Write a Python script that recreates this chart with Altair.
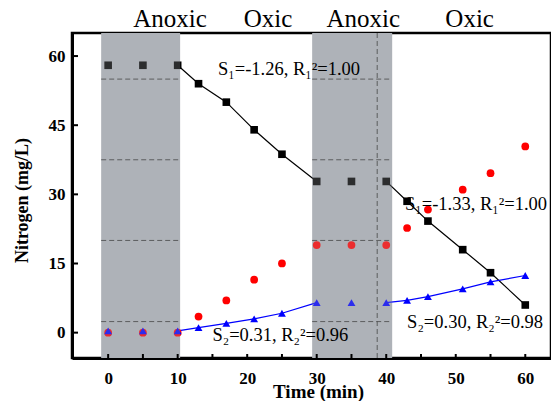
import altair as alt
import pandas as pd

# ---------------- data ----------------
times = [0, 5, 10, 13, 17, 21, 25, 30, 35, 40, 43, 46, 51, 55, 60]
nh4 = [58, 58, 58, 54, 50, 44, 38.7, 32.8, 32.8, 32.8, 28.5, 24.2, 18, 13, 6]
no2 = [0, 0, 0, 3.5, 7, 11.5, 15, 19, 19, 19, 22.7, 26.7, 31, 34.6, 40.4]
no3 = [0.4, 0.4, 0.4, 1.1, 2, 3, 4.2, 6.5, 6.5, 6.5, 7, 7.8, 9.5, 11, 12.4]
species = ["NH₄⁺-N", "NO₂⁻-N", "NO₃⁻-N"]
colors = ["#000000", "#ff0000", "#0000ff"]
shapes = ["square", "circle", "triangle-up"]
sizes = [58, 62, 85]

phase_labels = ["Anoxic", "Oxic", "Anoxic", "Oxic"]
phase_label_x = [8.9, 23, 36.7, 52]
shade_start = [-1, 29.35]
shade_end = [10.35, 40.85]
dash_y = [55, 37.5, 20, 2.4]
dash_x = [38.7]

annot_text = ["S₁=-1.26, R₁²=1.00", "S₁=-1.33, R₁²=1.00",
              "S₂=0.31, R₂²=0.96", "S₂=0.30, R₂²=0.98"]
annot_x = [15.8, 42.7, 15.0, 43.0]
annot_y = [57.2, 27.8, -0.6, 2.4]

x_tick_vals = list(range(0, 61, 5))
x_label_vals = list(range(0, 61, 10))
y_tick_vals = [0, 15, 30, 45, 60]

FONT = "Liberation Serif"
W, H = 479, 325

# ---------------- tables ----------------
pts = pd.DataFrame({
    "t": times * 3,
    "v": nh4 + no2 + no3,
    "s": [species[0]] * len(times) + [species[1]] * len(times) + [species[2]] * len(times),
})

seg_rows = []
for sp, vals in [(species[0], nh4), (species[2], no3)]:
    for t, v in zip(times, vals):
        if 10 <= t <= 30:
            seg_rows.append({"t": t, "v": v, "s": sp, "g": sp + "a"})
        if 40 <= t <= 60:
            seg_rows.append({"t": t, "v": v, "s": sp, "g": sp + "b"})
segs = pd.DataFrame(seg_rows)

shade_df = pd.DataFrame({"x0": shade_start, "x1": shade_end})
hdash = pd.DataFrame([{"x0": a, "x1": b, "y": y} for a, b in zip(shade_start, shade_end) for y in dash_y])
vdash = pd.DataFrame({"x": dash_x})
phase_df = pd.DataFrame({"x": phase_label_x, "lab": phase_labels})
annot_df = pd.DataFrame({"x": annot_x, "y": annot_y, "txt": annot_text})
xt_df = pd.DataFrame({"t": x_tick_vals})
yt_df = pd.DataFrame({"v": y_tick_vals})

# ---------------- scales / axes ----------------
xscale = alt.Scale(domain=[-5.2, 63.7], nice=False, zero=False)
yscale = alt.Scale(domain=[-5.5, 65], nice=False, zero=False)

xaxis = alt.Axis(values=x_label_vals, title="Time (min)", ticks=False, grid=False,
                 labelFont=FONT, labelFontWeight="bold", labelFontSize=17, labelColor="black",
                 labelPadding=12, domainColor="black", domainWidth=3,
                 titleFont=FONT, titleFontWeight="bold", titleFontSize=19, titleColor="black",
                 titleX=246, titleY=39, titleBaseline="alphabetic")
yaxis = alt.Axis(values=y_tick_vals, title="Nitrogen (mg/L)", ticks=False, grid=False,
                 labelFont=FONT, labelFontWeight="bold", labelFontSize=17, labelColor="black",
                 labelPadding=7, domainColor="black", domainWidth=3,
                 titleFont=FONT, titleFontWeight="bold", titleFontSize=18, titleColor="black",
                 titleX=-50, titleY=167, titleAngle=270, titleBaseline="middle")


def X(f):
    return alt.X(f, type="quantitative", scale=xscale, axis=xaxis)


def Y(f):
    return alt.Y(f, type="quantitative", scale=yscale, axis=yaxis)


cscale = alt.Scale(domain=species, range=colors)
sscale = alt.Scale(domain=species, range=shapes)
zscale = alt.Scale(domain=species, range=sizes)

legend = alt.Legend(orient="none", legendX=376, legendY=11, title=None,
                    labelFont=FONT, labelFontSize=19, labelColor="black",
                    symbolSize=60, rowPadding=12, labelOffset=19, padding=0,
                    symbolStrokeWidth=0)

# ---------------- layers ----------------
shade = alt.Chart(shade_df).mark_rect(color="#aeb2b8").encode(
    x=X("x0"), x2="x1", y=alt.value(0), y2=alt.value(H))

hd = alt.Chart(hdash).mark_rule(color="#333333", strokeDash=[5, 3], strokeWidth=0.9).encode(
    x=X("x0"), x2="x1", y=Y("y"))
vd = alt.Chart(vdash).mark_rule(color="#333333", strokeDash=[5, 3], strokeWidth=0.9).encode(
    x=X("x"), y=alt.value(0), y2=alt.value(H))

lines = alt.Chart(segs).mark_line(strokeWidth=1.2).encode(
    x=X("t"), y=Y("v"), detail="g:N",
    color=alt.Color("s:N", scale=cscale, legend=None))

points = alt.Chart(pts).mark_point(filled=True, opacity=1).encode(
    x=X("t"), y=Y("v"),
    color=alt.Color("s:N", scale=cscale, legend=legend, sort=species),
    shape=alt.Shape("s:N", scale=sscale, legend=legend, sort=species),
    size=alt.Size("s:N", scale=zscale, legend=None),
    order=alt.Order("s:N"))

overlay = alt.Chart(shade_df).mark_rect(color="#aeb2b8", opacity=0.25).encode(
    x=X("x0"), x2="x1", y=alt.value(0), y2=alt.value(H))

xticks = alt.Chart(xt_df).mark_rule(color="black", strokeWidth=2).encode(
    x=X("t"), y=alt.value(H), y2=alt.value(H - 4))
yticks = alt.Chart(yt_df).mark_rule(color="black", strokeWidth=2).encode(
    y=Y("v"), x=alt.value(0), x2=alt.value(6))

phase = alt.Chart(phase_df).mark_text(font=FONT, fontSize=25, color="black", baseline="alphabetic").encode(
    x=X("x"), y=alt.value(-6), text="lab:N")

annot = alt.Chart(annot_df).mark_text(font=FONT, fontSize=18.5, color="black", align="left",
                                       baseline="middle").encode(
    x=X("x"), y=Y("y"), text="txt:N")

chart = alt.layer(shade, hd, vd, lines, points, overlay, xticks, yticks, phase, annot).properties(
    width=W, height=H,
    padding={"left": 64, "top": 25, "right": 0, "bottom": 43},
    autosize=alt.AutoSizeParams(type="none"),
).configure_view(stroke="black", strokeWidth=2.5)

chart.save("out.html", embed_options={"renderer": "svg", "actions": False})
